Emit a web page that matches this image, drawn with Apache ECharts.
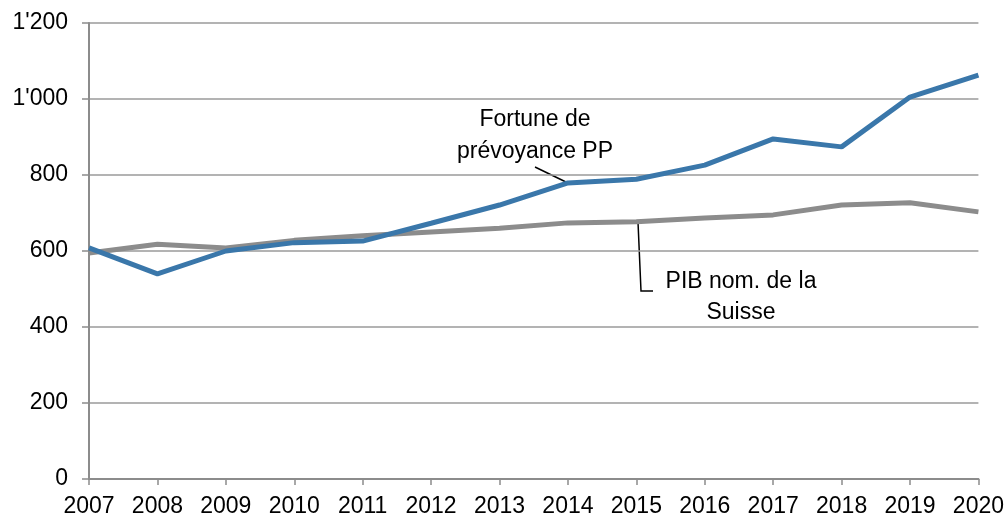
<!DOCTYPE html>
<html>
<head>
<meta charset="utf-8">
<script src="https://cdn.jsdelivr.net/npm/echarts@6/dist/echarts.min.js"></script>
<style>
  html, body { margin: 0; padding: 0; background: #fff; }
  #chart { width: 1007px; height: 518px; }
</style>
</head>
<body>
<div id="chart"></div>
<script>
var years = ["2007", "2008", "2009", "2010", "2011", "2012", "2013", "2014", "2015", "2016", "2017", "2018", "2019", "2020"];
var fortunePP = [608, 540, 600, 622, 626, 673, 721, 779, 789, 826, 895, 874, 1005, 1063];
var pibSuisse = [595, 618, 608, 628, 640, 650, 660, 674, 677, 687, 695, 721, 727, 703];

var font = "Liberation Sans";
var chart = echarts.init(document.getElementById("chart"));
chart.setOption({
  animation: false,
  grid: { left: 89, right: 28, top: 23, bottom: 39 },
  textStyle: { fontFamily: font },
  xAxis: {
    type: "category",
    data: years,
    boundaryGap: false,
    axisLine: { lineStyle: { color: "#8c8c8c", width: 2 } },
    axisTick: { show: true, length: 6, lineStyle: { color: "#8c8c8c", width: 1.5 } },
    axisLabel: { color: "#000", fontSize: 23, fontFamily: font, margin: 16 },
    splitLine: { show: false }
  },
  yAxis: {
    type: "value",
    min: 0,
    max: 1200,
    interval: 200,
    axisLine: { show: true, lineStyle: { color: "#8c8c8c", width: 2 } },
    axisTick: { show: true, length: 7, lineStyle: { color: "#8c8c8c", width: 1.5 } },
    axisLabel: {
      color: "#000",
      fontSize: 23,
      fontFamily: font,
      margin: 21,
      formatter: function (v) {
        return v >= 1000 ? String(v).replace(/(\d)(\d{3})$/, "$1'$2") : String(v);
      }
    },
    splitLine: { lineStyle: { color: "#9a9a9a", width: 1.5 } }
  },
  series: [
    {
      name: "PIB nom. de la Suisse",
      type: "line",
      data: pibSuisse,
      symbol: "none",
      lineStyle: { color: "#8c8c8c", width: 5 },
      z: 2
    },
    {
      name: "Fortune de prévoyance PP",
      type: "line",
      data: fortunePP,
      symbol: "none",
      lineStyle: { color: "#3a77aa", width: 5 },
      z: 3
    }
  ],
  graphic: [
    {
      type: "text",
      x: 535, y: 104,
      style: { text: "Fortune de\nprévoyance PP", font: "23px " + font, fill: "#000", align: "center", verticalAlign: "top", lineHeight: 32 }
    },
    { type: "line", shape: { x1: 535, y1: 167, x2: 568, y2: 183 }, style: { stroke: "#000", lineWidth: 1.5 } },
    {
      type: "text",
      x: 741, y: 266,
      style: { text: "PIB nom. de la\nSuisse", font: "23px " + font, fill: "#000", align: "center", verticalAlign: "top", lineHeight: 31 }
    },
    { type: "polyline", shape: { points: [[638, 222], [641, 291], [653, 291]] }, style: { stroke: "#000", lineWidth: 1.5, fill: null } }
  ]
});
</script>
</body>
</html>
